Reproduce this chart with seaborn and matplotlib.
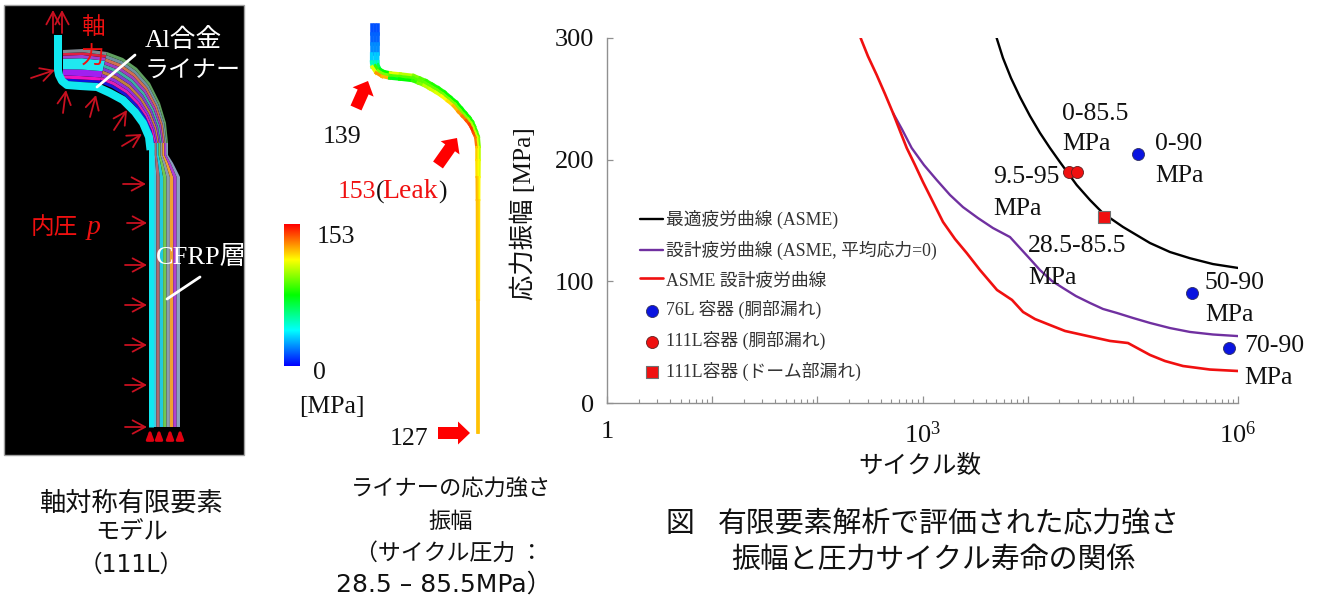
import matplotlib
matplotlib.use('Agg')
import matplotlib.pyplot as plt
from matplotlib.collections import LineCollection
from matplotlib.colors import LinearSegmentedColormap
from matplotlib.ticker import FixedLocator, NullFormatter
import numpy as np
import seaborn as sns

# S-N curves: cycles and stress amplitude [MPa]
best_n = [5070, 5820, 6940, 8450, 10520, 13090, 16290, 20280, 29240, 39170, 52000, 80600, 145500, 225500, 349000,
          578000, 1000000]
best_s = [300, 283.6, 267.1, 251.5, 235.9, 222, 209.6, 198, 179.2, 166.8, 156, 144.7, 131.5, 124.1, 119, 114.2, 111]
design_n = [524, 638, 789, 1033, 1365, 1825, 2427, 3370, 4680, 6790, 8450, 10520, 13090, 17020, 21680, 28770, 39170,
            52000, 70600, 100200, 145500, 225500, 349000, 578000, 1000000]
design_s = [238.4, 225, 209.6, 195.6, 183.3, 171, 161, 152, 143.8, 136.4, 127.4, 118.4, 109.3, 100.3, 94.5, 87.9,
            82.2, 77.3, 74, 69.9, 65.8, 61.6, 58.4, 56.3, 55]
asme_n = [258, 303, 367, 440, 524, 611, 708, 849, 1011, 1259, 1567, 2037, 2630, 3520, 5110, 7100, 9040, 11750, 16290,
          22650, 33570, 60700, 89900, 145500, 202300, 300000, 541000, 1000000]
asme_s = [300, 285, 269.6, 254, 238.4, 223.6, 209.6, 195.6, 181.6, 165.2, 148.8, 134.8, 123.3, 109.3, 92.9, 84.7,
          74.8, 69, 64.1, 59.2, 55.9, 51, 49.3, 39.5, 34.5, 30.4, 27.5, 26.3]

# test results
v76_n = [111200, 363000, 826000]
v76_s = [205, 90.7, 45]
v111_n = [24900, 29200]
v111_s = [190, 190]
dome_n = [53600]
dome_s = [152.6]

legend_labels = ['最適疲労曲線 (ASME)', '設計疲労曲線 (ASME, 平均応力=0)', 'ASME 設計疲労曲線',
                 '76L 容器 (胴部漏れ)', '111L容器 (胴部漏れ)', '111L容器 (ドーム部漏れ)']
y_ticks = [0, 100, 200, 300]
x_major = [1, 10, 100, 1000, 10000, 100000, 1000000]
x_major_labels = ['1', '', '', r'$\mathrm{10^{3}}$', '', '', r'$\mathrm{10^{6}}$']

# point labels: text, x px, y px
point_labels = [('0-85.5', 1062, 114), ('MPa', 1062, 144), ('0-90', 1155, 144), ('MPa', 1155, 176),
                ('9.5-95', 993, 177), ('MPa', 993, 209), ('28.5-85.5', 1028, 246), ('MPa', 1028, 278),
                ('50-90', 1205, 283), ('MPa', 1205, 315), ('70-90', 1244, 346), ('MPa', 1244, 378)]

# finite element model drawing, pixel coordinates of the picture
neck_xy = [(58, 35), (58, 70), (59, 75), (62, 81), (67, 85), (80, 86), (97, 87), (110, 93), (123, 100), (135, 112),
           (143, 123), (149, 137), (150.5, 150)]
wall_xy = [(150.5, 148), (150.5, 427)]
band_a_inner = [(63, 81), (80, 82), (100, 83)]
band_a_outer = [(63, 50), (83, 49), (107, 52)]
band_a_colors = ['#1010e0', '#f010c0', '#a020f0', '#20e8f0', '#a040d0', '#e02040', '#808890']
band_a_widths = [0.08, 0.1, 0.2, 0.34, 0.1, 0.08, 0.1]
band_b_inner = [(100, 83), (112, 88), (125, 96), (136, 107), (144, 118), (150, 131), (153, 143)]
band_b_outer = [(107, 52), (123, 58), (137, 68), (150, 83), (160, 103), (166, 123), (168, 143)]
band_b_colors = ['#1818d8', '#e020b0', '#9030e0', '#c08040', '#8040d0', '#40b0a0', '#a040c0', '#d07050',
                 '#7090a0', '#60a060']
band_c_inner = [(153, 143), (153, 155), (153, 163), (153, 177), (153, 427)]
band_c_outer = [(168, 143), (168, 155), (173, 163), (180, 177), (180, 427)]
band_c_colors = ['#40c8e0', '#b06a70', '#20c8e0', '#70c850', '#8a9ab0', '#f0a030', '#b040d0', '#8aa0c0']

thin_arrows = [(31, 78, 55, 70), (63, 113, 66, 90), (90, 117, 96, 95), (114, 130, 127, 110), (122, 146, 142, 134),
               (123, 184, 146, 184), (127, 223, 147, 223), (125, 265, 147, 265), (125, 305, 147, 305),
               (125, 345, 147, 345), (125, 385, 147, 385), (125, 427, 147, 427), (53, 33, 53, 10), (62, 33, 62, 10)]
base_arrows_x = [150, 159, 170, 180]

# liner contour drawing, value is the fraction of the colour bar
liner_x = [374.7, 374.7, 374.7, 374.7, 374.7, 375, 378, 383, 390, 400, 413, 419, 425, 431, 437, 443, 449, 455, 460,
           464, 468, 471, 473, 475, 477, 478, 478, 478, 478, 478, 478]
liner_y = [25, 34, 44, 54, 62, 66, 71, 74, 75.5, 76.5, 78, 80.5, 83, 86.5, 90, 94, 99, 104, 110, 114.5, 119, 123, 127,
           132, 137, 147, 160, 177, 200, 300, 433]
liner_w = [9, 9, 9, 9, 9, 9, 8, 8, 8, 8, 8, 8, 8, 8, 8, 7.8, 7.5, 7.5, 7.5, 7.2, 7, 6.5, 6, 5.8, 5.5, 5, 5, 4.5, 4,
           3.5, 3.5]
liner_hot = [0.08, 0.1, 0.14, 0.2, 0.32, 0.72, 0.85, 0.82, 0.48, 0.5, 0.55, 0.62, 0.68, 0.7, 0.72, 0.75, 0.78, 0.82,
             0.85, 0.88, 0.92, 0.94, 0.95, 0.92, 0.88, 0.8, 0.78, 0.82, 0.81, 0.81, 0.81]
liner_mid = [0.08, 0.1, 0.14, 0.2, 0.32, 0.55, 0.62, 0.62, 0.58, 0.58, 0.58, 0.59, 0.6, 0.6, 0.6, 0.61, 0.62, 0.62,
             0.62, 0.63, 0.65, 0.67, 0.68, 0.7, 0.72, 0.74, 0.75, 0.78, 0.8, 0.81, 0.81]
liner_cool = [0.08, 0.1, 0.14, 0.2, 0.32, 0.42, 0.48, 0.5, 0.72, 0.68, 0.62, 0.58, 0.55, 0.53, 0.52, 0.51, 0.5, 0.5,
              0.5, 0.51, 0.52, 0.54, 0.55, 0.58, 0.62, 0.68, 0.72, 0.75, 0.78, 0.81, 0.81]
fat_arrows = [(356, 108, 12, -27), (438, 165, 19, -27), (438, 433, 32, 0)]

PX = 0.72  # points per pixel at dpi 100
SERIF = ['Liberation Serif', 'Noto Sans CJK JP']
SANS = ['Noto Sans CJK JP', 'DejaVu Sans']
WIDE = ['DejaVu Sans', 'Noto Sans CJK JP']


def draw_band(ax, inner, outer, colors, widths=None):
    """Fill the layers between two polylines with one colour for each layer."""
    inner = np.array(inner, dtype=float)
    outer = np.array(outer, dtype=float)
    if widths is None:
        widths = [1 / len(colors)] * len(colors)
    edges = np.concatenate([[0], np.cumsum(widths)])
    for i, color in enumerate(colors):
        low = inner + (outer - inner) * edges[i]
        high = inner + (outer - inner) * edges[i + 1]
        poly = np.vstack([low, high[::-1]])
        ax.fill(poly[:, 0], poly[:, 1], color=color, lw=0)


def draw_liner_track(ax, offset, values, cmap):
    """Draw one coloured track of the liner wall, offset across the wall width."""
    x = np.array(liner_x)
    y = np.array(liner_y)
    w = np.array(liner_w)
    dx = np.gradient(x)
    dy = np.gradient(y)
    norm = np.hypot(dx, dy)
    px = x + offset * w * dy / norm
    py = y - offset * w * dx / norm
    pts = np.column_stack([px, py])
    segs = np.stack([pts[:-1], pts[1:]], axis=1)
    lc = LineCollection(segs, colors=cmap(np.array(values[:-1])), linewidths=w[:-1] / 3 * PX + 0.4,
                        capstyle='projecting')
    ax.add_collection(lc)


sns.set_theme(style='white')
plt.rcParams['font.family'] = SERIF
plt.rcParams['mathtext.fontset'] = 'custom'
plt.rcParams['mathtext.rm'] = 'Liberation Serif'

fig = plt.figure(figsize=(13.21, 6.01), dpi=100)

# S-N chart
ax = fig.add_axes([607 / 1321, 1 - 403 / 601, 631 / 1321, 365 / 601])
sns.lineplot(x=best_n, y=best_s, color='black', lw=1.7, label=legend_labels[0], ax=ax, sort=False, errorbar=None)
sns.lineplot(x=design_n, y=design_s, color='#7030a0', lw=1.7, label=legend_labels[1], ax=ax, sort=False,
             errorbar=None)
sns.lineplot(x=asme_n, y=asme_s, color='#f01010', lw=1.9, label=legend_labels[2], ax=ax, sort=False, errorbar=None)
sns.scatterplot(x=v76_n, y=v76_s, color='#0a14e0', edgecolor='#303060', lw=0.6, s=75, label=legend_labels[3], ax=ax,
                zorder=5)
sns.scatterplot(x=v111_n, y=v111_s, color='#f01010', edgecolor='#602020', lw=0.6, s=75, label=legend_labels[4], ax=ax,
                zorder=5)
sns.scatterplot(x=dome_n, y=dome_s, color='#f01010', edgecolor='#707070', lw=0.8, s=75, marker='s',
                label=legend_labels[5], ax=ax, zorder=5)

ax.set_xscale('log')
ax.set_xlim(1, 1e6)
ax.set_ylim(0, 300)
ax.set_yticks(y_ticks)
ax.xaxis.set_major_locator(FixedLocator(x_major))
ax.set_xticklabels(x_major_labels)
ax.xaxis.set_minor_locator(FixedLocator([m * 10 ** d for d in range(6) for m in range(2, 10)]))
ax.xaxis.set_minor_formatter(NullFormatter())
ax.tick_params(axis='x', which='major', direction='in', bottom=True, length=5, width=0.9, color='#909090',
               labelsize=19, pad=13, labelcolor='#111111')
ax.tick_params(axis='x', which='minor', direction='in', bottom=True, length=3, width=0.8, color='#909090')
ax.tick_params(axis='y', direction='in', left=True, length=4, width=0.9, color='#909090', labelsize=19, pad=9,
               labelcolor='#111111')
sns.despine(ax=ax)
for side in ('left', 'bottom'):
    ax.spines[side].set_color('#909090')
    ax.spines[side].set_linewidth(1.0)
ax.patch.set_alpha(0)

ax.set_xlabel('サイクル数', fontsize=17.7, family=SANS, color='#111111', va='center')
ax.xaxis.set_label_coords((920 - 607) / 631, (403 - 466) / 365)
ax.set_ylabel('応力振幅 [MPa]', fontsize=18.3, color='#111111', va='center')
ax.yaxis.set_label_coords((523 - 607) / 631, (403 - 214) / 365)

leg = ax.legend(loc='upper left', bbox_to_anchor=((640 - 607) / 631, (403 - 210) / 365), frameon=False, fontsize=12.8,
                borderaxespad=0, borderpad=0, handlelength=1.3, handletextpad=0.15, labelspacing=0.66,
                labelcolor='#333333')

# everything else is drawn in picture pixels
over = fig.add_axes([0, 0, 1, 1])
over.set_xlim(0, 1321)
over.set_ylim(601, 0)
over.axis('off')
over.patch.set_alpha(0)

for label, x, y in point_labels:
    over.text(x, y, label, fontsize=18.5, color='#111111', va='center', ha='left')

# finite element model
over.fill([4, 244, 244, 4], [5, 5, 455, 455], facecolor='black', edgecolor='#a0a0a0', lw=1)
draw_band(over, band_a_inner, band_a_outer, band_a_colors, band_a_widths)
draw_band(over, band_b_inner, band_b_outer, band_b_colors)
draw_band(over, band_c_inner, band_c_outer, band_c_colors)
neck = np.array(neck_xy)
wall = np.array(wall_xy)
over.plot(neck[:, 0], neck[:, 1], color='#10e8f0', lw=8 * PX, solid_capstyle='butt', solid_joinstyle='round')
over.plot(wall[:, 0], wall[:, 1], color='#10e8f0', lw=5 * PX, solid_capstyle='butt')
for x0, y0, x1, y1 in thin_arrows:
    over.annotate('', xy=(x1, y1), xytext=(x0, y0),
                  arrowprops=dict(arrowstyle='->,head_length=0.75,head_width=0.4', color='#c81020', lw=1.3,
                                  shrinkA=0, shrinkB=0))
for x0 in base_arrows_x:
    over.annotate('', xy=(x0, 429), xytext=(x0, 440),
                  arrowprops=dict(arrowstyle='-|>,head_length=0.45,head_width=0.17', color='#e00010', lw=2.0,
                                  shrinkA=0, shrinkB=0))
over.plot([97, 135], [87, 55], color='white', lw=2)
over.plot([167, 200], [299, 277], color='white', lw=2)
over.text(93, 27, '軸', fontsize=17, family=SANS, color='#f01010', ha='center', va='center')
over.text(93, 57, '力', fontsize=17, family=SANS, color='#f01010', ha='center', va='center')
over.text(145, 40, 'Al合金', fontsize=18.5, color='white', va='center')
over.text(145, 72, 'ライナー', fontsize=17.3, color='white', va='center')
over.text(31, 227, '内圧', fontsize=17, family=SANS, color='#f01010', va='center')
over.text(87, 227, 'p', fontsize=20, style='italic', family='Liberation Serif', color='#f01010', va='center')
over.text(156, 258, 'CFRP層', fontsize=19, color='white', va='center')

# liner contour and colour bar
rainbow = LinearSegmentedColormap.from_list('fe', ['#0000ff', '#00ffff', '#00ff00', '#ffff00', '#ff0000'])
draw_liner_track(over, 1 / 3, liner_cool, rainbow)
draw_liner_track(over, 0, liner_mid, rainbow)
draw_liner_track(over, -1 / 3, liner_hot, rainbow)
over.imshow(np.linspace(1, 0, 256).reshape(-1, 1), cmap=rainbow, extent=(284, 299.5, 366, 224), aspect='auto')
over.set_xlim(0, 1321)
over.set_ylim(601, 0)
for x0, y0, dx, dy in fat_arrows:
    over.arrow(x0, y0, dx, dy, width=12, head_width=23, head_length=12, length_includes_head=True, color='#ff0000',
               lw=0)
over.text(323, 137, '139', fontsize=18.5, color='#111111', va='center')
over.text(338, 192, '153', fontsize=18.5, color='#f01010', va='center')
over.text(376, 192, '(', fontsize=18.5, color='#111111', va='center')
over.text(382.5, 192, 'Leak', fontsize=20, color='#f01010', va='center')
over.text(438, 192, ')', fontsize=18.5, color='#111111', va='center')
over.text(317, 237, '153', fontsize=18.5, color='#111111', va='center')
over.text(313, 373, '0', fontsize=18.5, color='#111111', va='center')
over.text(299, 407, '[MPa]', fontsize=18.5, color='#111111', va='center')
over.text(390, 439, '127', fontsize=18.5, color='#111111', va='center')

# captions
for text, x, y, size in [('軸対称有限要素', 132, 503, 18.9), ('モデル', 132, 533, 17.5),
                         ('ライナーの応力強さ', 451, 489, 16), ('振幅', 451, 522, 16), ('（サイクル圧力 ：', 449, 553, 16.5),
                         ('有限要素解析で評価された応力強さ', 948.5, 524, 20.8),
                         ('振幅と圧力サイクル寿命の関係', 933, 560, 20.8)]:
    over.text(x, y, text, fontsize=size, family=SANS, color='#111111', ha='center', va='center')
over.text(680, 524, '図', fontsize=20.8, family=SANS, color='#111111', ha='center', va='center')
over.text(131, 565, '（111L）', fontsize=17, family=WIDE, color='#111111', ha='center', va='center')
over.text(444, 585, '28.5 – 85.5MPa）', fontsize=18, family=WIDE, color='#111111', ha='center', va='center')

fig.savefig('out.png', dpi=100, facecolor='white')
